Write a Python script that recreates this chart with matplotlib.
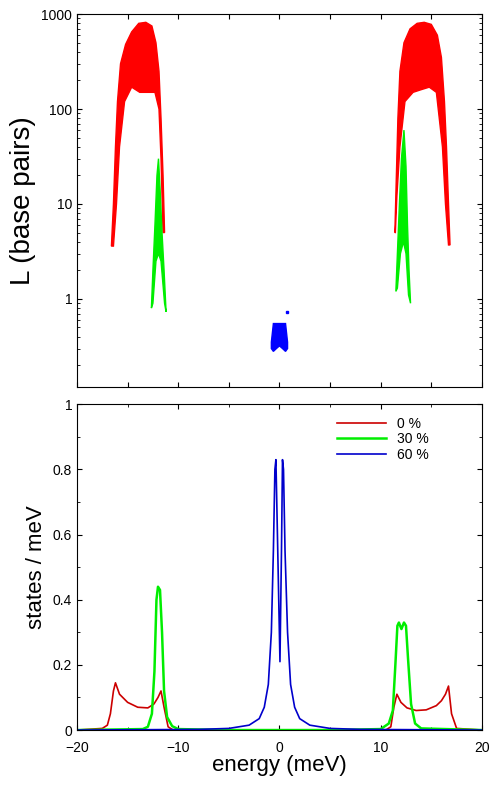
import matplotlib.pyplot as plt
import numpy as np

plt.rcParams['font.family'] = ['Liberation Sans', 'DejaVu Sans']

# outlines of the localisation-length point clouds (energy meV, L base pairs)
red_left_e = [-16.6, -16.4, -16.2, -16.0, -15.7, -15.2, -14.6, -13.9, -13.2, -12.6, -12.2, -11.9, -11.7, -11.5, -11.35,
              -11.5, -11.7, -11.9, -12.3, -13.0, -13.8, -14.6, -15.3, -15.8, -16.1, -16.4]
red_left_l = [3.6, 10, 40, 120, 300, 480, 650, 800, 820, 750, 500, 250, 80, 20, 5,
              5, 30, 100, 150, 150, 150, 170, 120, 40, 10, 3.6]
red_right_e = [11.4, 11.55, 11.7, 11.9, 12.3, 12.9, 13.6, 14.3, 15.0, 15.6, 16.0, 16.3, 16.5, 16.7, 16.85,
               16.7, 16.4, 16.1, 15.5, 14.8, 14.0, 13.2, 12.4, 11.9, 11.6, 11.45]
red_right_l = [5, 20, 80, 250, 500, 700, 800, 820, 780, 600, 350, 120, 40, 10, 3.7,
               3.7, 10, 40, 150, 170, 160, 150, 120, 40, 12, 5]
green_left_e = [-12.65, -12.5, -12.3, -12.1, -11.95, -11.8, -11.6, -11.4, -11.2, -11.35, -11.7, -11.95, -12.2, -12.5]
green_left_l = [0.8, 2, 6, 20, 30, 15, 5, 2, 0.73, 0.9, 2.5, 3, 2.5, 0.9]
green_right_e = [11.5, 11.65, 11.85, 12.05, 12.3, 12.5, 12.65, 12.8, 12.95, 12.75, 12.5, 12.25, 11.95, 11.65]
green_right_l = [1.2, 3, 10, 30, 60, 25, 6, 2, 0.9, 1.1, 3, 4, 3, 1.3]
blue_e = [-0.8, -0.6, -0.3, 0.0, 0.3, 0.6, 0.8, 0.8, 0.6, 0.3, 0.0, -0.3, -0.6, -0.8]
blue_l = [0.35, 0.55, 0.55, 0.55, 0.55, 0.55, 0.35, 0.3, 0.28, 0.3, 0.32, 0.3, 0.28, 0.3]
blue_extra_e = [0.75]
blue_extra_l = [0.73]

# density of states curves
dos0_e = [-20, -17.5, -17.0, -16.7, -16.4, -16.2, -15.8, -15.0, -14.0, -13.0, -12.4, -12.0, -11.7, -11.4, -11.0, -10.5,
          10.5, 11.0, 11.3, 11.6, 12.0, 12.6, 13.5, 14.5, 15.5, 16.0, 16.4, 16.7, 17.0, 17.5, 20]
dos0_v = [0, 0.005, 0.015, 0.05, 0.12, 0.145, 0.11, 0.085, 0.07, 0.068, 0.08, 0.1, 0.12, 0.07, 0.01, 0,
          0, 0.01, 0.07, 0.11, 0.085, 0.068, 0.06, 0.062, 0.075, 0.09, 0.11, 0.135, 0.05, 0.005, 0]
dos30_e = [-20, -13.5, -13.0, -12.6, -12.35, -12.15, -12.0, -11.8, -11.6, -11.4, -11.1, -10.6, -10.0, -5, 5,
           10.0, 10.8, 11.2, 11.45, 11.65, 11.8, 12.05, 12.3, 12.5, 12.7, 13.0, 13.4, 14.0, 20]
dos30_v = [0, 0.003, 0.01, 0.05, 0.18, 0.4, 0.44, 0.43, 0.3, 0.12, 0.04, 0.012, 0.003, 0, 0,
           0.003, 0.02, 0.06, 0.2, 0.32, 0.33, 0.31, 0.33, 0.32, 0.22, 0.08, 0.02, 0.005, 0]
dos60_e = [-20, -8, -5, -3, -2, -1.5, -1.1, -0.8, -0.6, -0.45, -0.35, -0.2, 0.05, 0.2, 0.3, 0.4,
           0.55, 0.8, 1.1, 1.5, 2, 3, 5, 8, 20]
dos60_v = [0, 0.002, 0.005, 0.015, 0.035, 0.07, 0.14, 0.3, 0.55, 0.8, 0.83, 0.6, 0.21, 0.55, 0.83, 0.8,
           0.55, 0.3, 0.14, 0.07, 0.035, 0.015, 0.005, 0.002, 0]

fig = plt.figure(figsize=(4.92, 7.85), dpi=100)
ax1 = fig.add_axes([0.1565, 0.507, 0.823, 0.475])
ax2 = fig.add_axes([0.1565, 0.070, 0.823, 0.415])

red, green, blue = '#ff0000', '#00ee00', '#0000ff'
ax1.fill(red_left_e, red_left_l, color=red, lw=1)
ax1.fill(red_right_e, red_right_l, color=red, lw=1)
ax1.fill(green_left_e, green_left_l, color=green, lw=1)
ax1.fill(green_right_e, green_right_l, color=green, lw=1)
ax1.fill(blue_e, blue_l, color=blue, lw=1)
ax1.plot(blue_extra_e, blue_extra_l, 's', color=blue, ms=2)
ax1.set_yscale('log')
ax1.set_xlim(-20, 20)
ax1.set_ylim(0.118, 1000)
ax1.set_yticks([1, 10, 100, 1000])
ax1.set_yticklabels(['1', '10', '100', '1000'])
ax1.set_xticklabels([])
ax1.set_ylabel('L (base pairs)', fontsize=20)

ax2.plot(dos0_e, dos0_v, color='#cc0000', lw=1.2, label='0 %')
ax2.plot(dos30_e, dos30_v, color=green, lw=1.8, label='30 %')
ax2.plot(dos60_e, dos60_v, color='#0000cc', lw=1.2, label='60 %')
ax2.set_xlim(-20, 20)
ax2.set_ylim(0, 1)
ax2.set_xticks([-20, -10, 0, 10, 20])
ax2.set_yticks([0, 0.2, 0.4, 0.6, 0.8, 1])
ax2.set_yticklabels(['0', '0.2', '0.4', '0.6', '0.8', '1'])
ax2.set_xlabel('energy (meV)', fontsize=16, labelpad=0)
ax2.set_ylabel('states / meV', fontsize=16)
ax2.legend(frameon=False, loc='upper right', bbox_to_anchor=(0.9, 1.0), fontsize=10,
           handlelength=3.5, labelspacing=0.1)

for ax in (ax1, ax2):
    ax.xaxis.set_minor_locator(plt.MultipleLocator(5))
    ax.tick_params(which='both', direction='in', top=True, right=True, labelsize=10)
ax2.yaxis.set_minor_locator(plt.MultipleLocator(0.1))
ax2.tick_params(axis='x', pad=8)

fig.savefig('out.png', dpi=100)
